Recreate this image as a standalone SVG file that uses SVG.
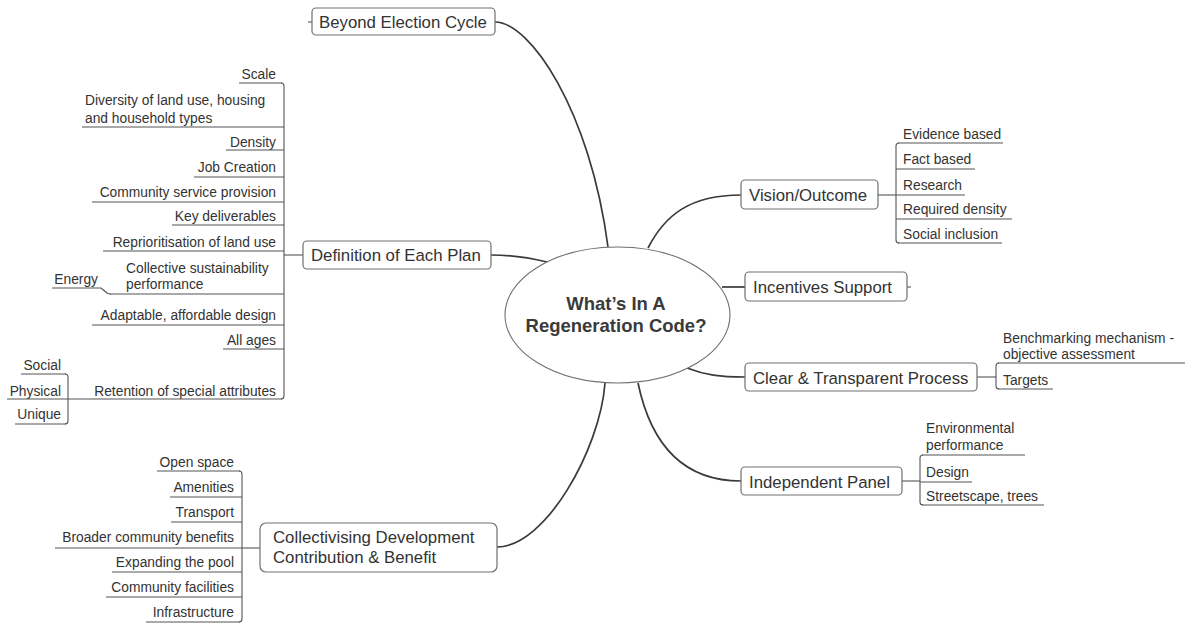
<svg xmlns="http://www.w3.org/2000/svg" width="1192" height="625" viewBox="0 0 1192 625">
  <style>
    text { font-family: "Liberation Sans", Arial, sans-serif; fill: #333; }
    .topic { font-size: 16.8px; }
    .sub { font-size: 13.8px; }
    .end { text-anchor: end; }
    .hubtxt { font-size: 18.5px; font-weight: bold; text-anchor: middle; fill: #3a3a3a; }
    .box { fill: #fff; stroke: #707070; stroke-width: 1.2; }
    .hub { fill: #fff; stroke: #707070; stroke-width: 1.1; }
    .link { fill: none; stroke: #3a3a3a; stroke-width: 1.7; }
    .rule { fill: none; stroke: #555; stroke-width: 1.1; }
  </style>

  <!-- connectors: curved branches from the hub, and child brackets -->
  <g id="connectors">
    <path class="link" d="M495,22 C530,22 590,110 608,247"/>
    <path class="link" d="M491,255 C515,255 530,258 547,262"/>
    <path class="link" d="M605,383 C600,450 545,547 497,547"/>
    <path class="link" d="M648,248 C665,215 690,195 741,195"/>
    <path class="link" d="M722,287 L745,287"/>
    <path class="link" d="M687,368 C705,375 720,377 745,377"/>
    <path class="link" d="M638,383 C650,440 680,481 741,481"/>

    <!-- brackets and short stubs -->
    <path class="rule" d="M878,195 H896"/>
    <path class="rule" d="M899,143 Q896,143 896,146 V240 Q896,243 899,243"/>
    <path class="rule" d="M303,255 H284"/>
    <path class="rule" d="M281,83 Q284,83 284,86 V396 Q284,399 281,399"/>
    <path class="rule" d="M65,374 Q68,374 68,377 V421 Q68,424 65,424"/>
    <path class="rule" d="M101,288 L107,293 Q108,294 111,294"/>
    <path class="rule" d="M260,548 H242"/>
    <path class="rule" d="M239,471 Q242,471 242,474 V619 Q242,622 239,622"/>
    <path class="rule" d="M977,377 H996"/>
    <path class="rule" d="M999,363 Q996,363 996,366 V386 Q996,389 999,389"/>
    <path class="rule" d="M902,481 H920"/>
    <path class="rule" d="M923,455 Q920,455 920,458 V502 Q920,505 923,505"/>
    <path class="rule" d="M308,22 H312"/>
    <path class="rule" d="M907,287 H911"/>
  </g>

  <!-- central topic -->
  <g id="hub">
    <ellipse class="hub" cx="617.5" cy="315" rx="112.5" ry="68"/>
    <text class="hubtxt" x="616" y="310">What’s In A</text>
    <text class="hubtxt" x="616" y="332">Regeneration Code?</text>
  </g>

  <!-- main topics -->
  <g id="beyond-election-cycle">
    <rect class="box" x="312" y="8" width="183" height="27" rx="4"/>
    <text class="topic" x="319" y="28">Beyond Election Cycle</text>
  </g>
  <g id="definition-of-each-plan">
    <rect class="box" x="303" y="241" width="188" height="28" rx="4"/>
    <text class="topic" x="311" y="261">Definition of Each Plan</text>
  </g>
  <g id="collectivising">
    <rect class="box" x="260" y="523" width="237" height="49" rx="6"/>
    <text class="topic" x="273" y="543">Collectivising Development</text>
    <text class="topic" x="273" y="563">Contribution &amp; Benefit</text>
  </g>
  <g id="vision-outcome">
    <rect class="box" x="741" y="180" width="137" height="29" rx="4"/>
    <text class="topic" x="749" y="201">Vision/Outcome</text>
  </g>
  <g id="incentives-support">
    <rect class="box" x="745" y="272" width="162" height="29" rx="4"/>
    <text class="topic" x="753" y="293">Incentives Support</text>
  </g>
  <g id="clear-transparent-process">
    <rect class="box" x="745" y="363" width="232" height="28" rx="4"/>
    <text class="topic" x="753" y="384">Clear &amp; Transparent Process</text>
  </g>
  <g id="independent-panel">
    <rect class="box" x="741" y="467" width="161" height="28" rx="4"/>
    <text class="topic" x="749" y="488">Independent Panel</text>
  </g>

  <!-- Definition of Each Plan: sub-topics -->
  <g id="scale"><text class="sub end" x="276" y="79">Scale</text><path class="rule" d="M239,83 H282"/></g>
  <g id="diversity">
    <text class="sub" x="85" y="105">Diversity of land use, housing</text>
    <text class="sub" x="85" y="123">and household types</text>
    <path class="rule" d="M82,127 H284"/>
  </g>
  <g id="density"><text class="sub end" x="276" y="147">Density</text><path class="rule" d="M226,150 H284"/></g>
  <g id="job-creation"><text class="sub end" x="276" y="172">Job Creation</text><path class="rule" d="M194,177 H284"/></g>
  <g id="community-service"><text class="sub end" x="276" y="197">Community service provision</text><path class="rule" d="M92,202 H284"/></g>
  <g id="key-deliverables"><text class="sub end" x="276" y="221">Key deliverables</text><path class="rule" d="M172,225 H284"/></g>
  <g id="reprioritisation"><text class="sub end" x="276" y="247">Reprioritisation of land use</text><path class="rule" d="M103,251 H284"/></g>
  <g id="collective-sustainability">
    <text class="sub" x="126" y="273">Collective sustainability</text>
    <text class="sub" x="126" y="289">performance</text>
    <path class="rule" d="M110,294 H284"/>
  </g>
  <g id="energy"><text class="sub end" x="98" y="284">Energy</text><path class="rule" d="M52,288 H101"/></g>
  <g id="adaptable-design"><text class="sub end" x="276" y="320">Adaptable, affordable design</text><path class="rule" d="M92,325 H284"/></g>
  <g id="all-ages"><text class="sub end" x="276" y="345">All ages</text><path class="rule" d="M223,349 H284"/></g>
  <g id="retention"><text class="sub end" x="276" y="396">Retention of special attributes</text><path class="rule" d="M68,399 H282"/></g>
  <g id="social"><text class="sub end" x="61" y="370">Social</text><path class="rule" d="M21,374 H66"/></g>
  <g id="physical"><text class="sub end" x="61" y="396">Physical</text><path class="rule" d="M7,399 H68"/></g>
  <g id="unique"><text class="sub end" x="61" y="419">Unique</text><path class="rule" d="M15,424 H66"/></g>

  <!-- Collectivising Development: sub-topics -->
  <g id="open-space"><text class="sub end" x="234" y="467">Open space</text><path class="rule" d="M157,471 H240"/></g>
  <g id="amenities"><text class="sub end" x="234" y="492">Amenities</text><path class="rule" d="M170,497 H242"/></g>
  <g id="transport"><text class="sub end" x="234" y="517">Transport</text><path class="rule" d="M171,522 H242"/></g>
  <g id="broader-benefits"><text class="sub end" x="234" y="542">Broader community benefits</text><path class="rule" d="M55,548 H242"/></g>
  <g id="expanding-pool"><text class="sub end" x="234" y="567">Expanding the pool</text><path class="rule" d="M112,572 H242"/></g>
  <g id="community-facilities"><text class="sub end" x="234" y="592">Community facilities</text><path class="rule" d="M106,597 H242"/></g>
  <g id="infrastructure"><text class="sub end" x="234" y="617">Infrastructure</text><path class="rule" d="M146,622 H240"/></g>

  <!-- Vision/Outcome: sub-topics -->
  <g id="evidence-based"><text class="sub" x="903" y="139">Evidence based</text><path class="rule" d="M898,143 H1003"/></g>
  <g id="fact-based"><text class="sub" x="903" y="164">Fact based</text><path class="rule" d="M896,169 H975"/></g>
  <g id="research"><text class="sub" x="903" y="190">Research</text><path class="rule" d="M896,195 H965"/></g>
  <g id="required-density"><text class="sub" x="903" y="214">Required density</text><path class="rule" d="M896,219 H1012"/></g>
  <g id="social-inclusion"><text class="sub" x="903" y="239">Social inclusion</text><path class="rule" d="M898,243 H1002"/></g>

  <!-- Clear & Transparent Process: sub-topics -->
  <g id="benchmarking">
    <text class="sub" x="1003" y="343">Benchmarking mechanism -</text>
    <text class="sub" x="1003" y="359">objective assessment</text>
    <path class="rule" d="M998,363 H1185"/>
  </g>
  <g id="targets"><text class="sub" x="1003" y="385">Targets</text><path class="rule" d="M998,389 H1053"/></g>

  <!-- Independent Panel: sub-topics -->
  <g id="environmental-performance">
    <text class="sub" x="926" y="433">Environmental</text>
    <text class="sub" x="926" y="450">performance</text>
    <path class="rule" d="M922,455 H1025"/>
  </g>
  <g id="design"><text class="sub" x="926" y="477">Design</text><path class="rule" d="M920,482 H972"/></g>
  <g id="streetscape"><text class="sub" x="926" y="501">Streetscape, trees</text><path class="rule" d="M922,505 H1044"/></g>
</svg>
